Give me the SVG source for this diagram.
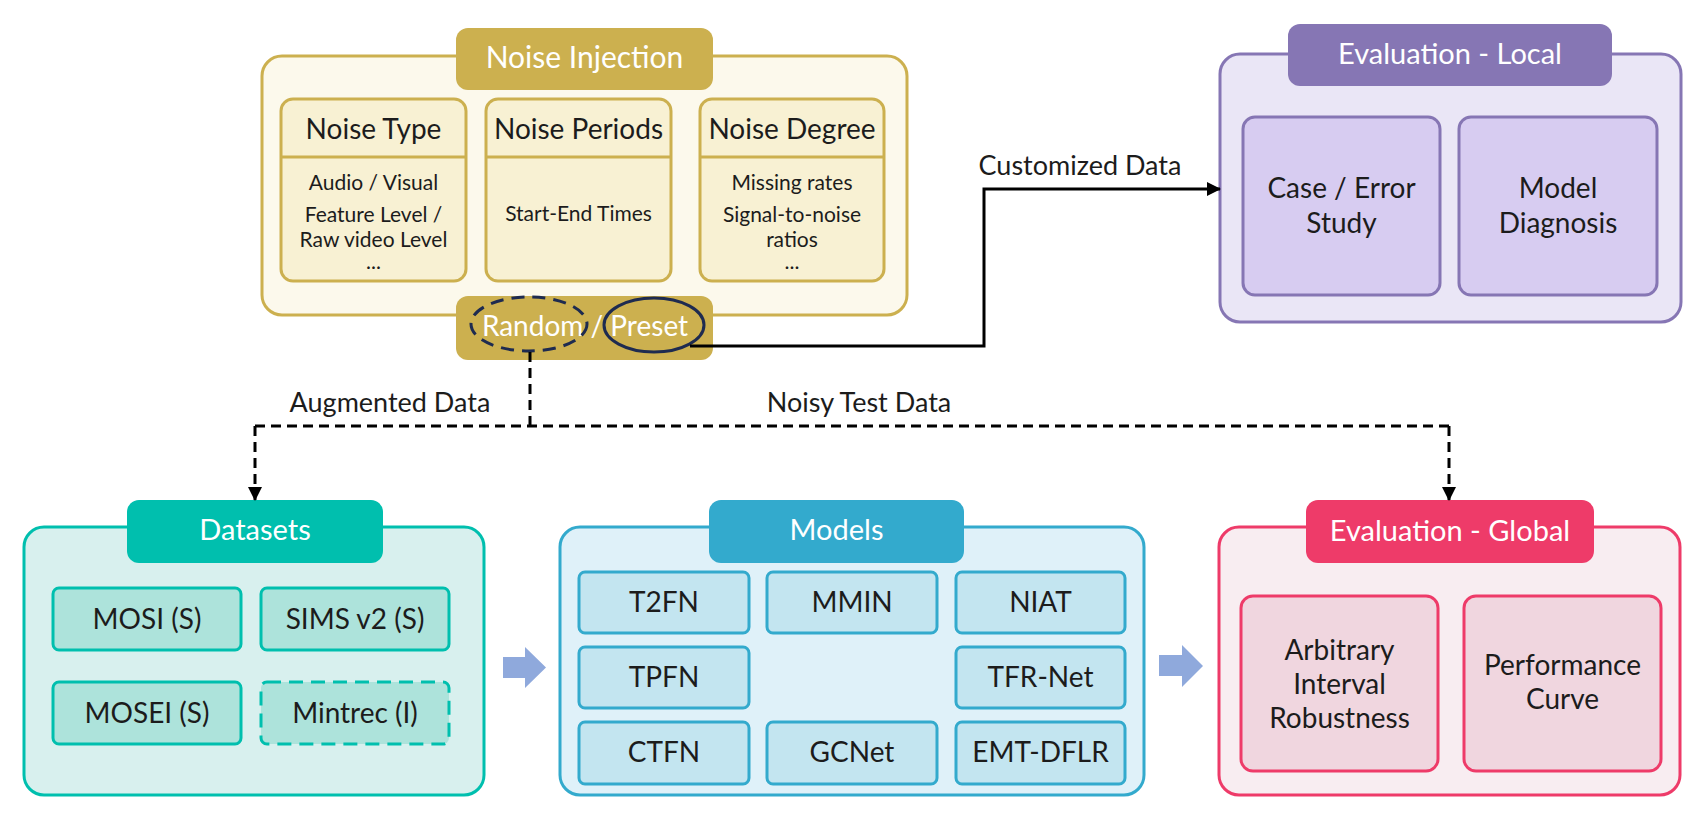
<svg xmlns="http://www.w3.org/2000/svg" width="1708" height="830" viewBox="0 0 1708 830">
<style>
text{font-family:Lato,"Noto Sans","Liberation Sans",sans-serif;fill:#1c1c1c;text-anchor:middle}
.t{fill:#fff;font-size:29px}
.h{font-size:28px}
.s{font-size:21px}
.m{font-size:28px}
.lbl{font-size:27px}
.gold-o{fill:#fcf9ec;stroke:#ccb04f;stroke-width:3}
.gold-s{fill:#f8f1d3;stroke:#ccb04f;stroke-width:3}
.gold-t{fill:#ccb04f}
.pur-o{fill:#eae6f6;stroke:#8676b4;stroke-width:3}
.pur-s{fill:#d7ccf1;stroke:#8676b4;stroke-width:3}
.pur-t{fill:#8676b4}
.tea-o{fill:#d8f0ee;stroke:#00bfae;stroke-width:3}
.tea-s{fill:#ade3db;stroke:#00bfae;stroke-width:3}
.tea-t{fill:#00bfae}
.blu-o{fill:#dff1f9;stroke:#33aacd;stroke-width:3}
.blu-s{fill:#c3e5f0;stroke:#33aacd;stroke-width:3}
.blu-t{fill:#33aacd}
.pin-o{fill:#f8edf1;stroke:#ee3b69;stroke-width:3}
.pin-s{fill:#f0d6df;stroke:#ee3b69;stroke-width:3}
.pin-t{fill:#ee3b69}
.line{fill:none;stroke:#000;stroke-width:3}
.dash{fill:none;stroke:#000;stroke-width:3;stroke-dasharray:10 6}
.barrow{fill:#8fa9dc}
</style>
<defs>
<marker id="arr" markerWidth="14" markerHeight="14" refX="13" refY="7" orient="auto" markerUnits="userSpaceOnUse">
<path d="M0,0 L14,7 L0,14 Z" fill="#000"/>
</marker>
</defs>

<g id="noise-injection">
<rect class="gold-o" x="262" y="56" width="645" height="259" rx="20"/>
<rect class="gold-t" x="456" y="28" width="257" height="62" rx="12"/>
<text class="t" x="584.5" y="68" style="font-size:30px">Noise Injection</text>
<g id="noise-type">
<rect class="gold-s" x="281" y="99" width="185" height="182" rx="12"/>
<line x1="281" y1="157" x2="466" y2="157" stroke="#ccb04f" stroke-width="3"/>
<text class="h" x="373.5" y="139">Noise Type</text>
<text class="s" x="373.5" y="190">Audio / Visual</text>
<text class="s" x="373.5" y="222">Feature Level /</text>
<text class="s" x="373.5" y="247">Raw video Level</text>
<text class="s" x="373.5" y="269">...</text>
</g>
<g id="noise-periods">
<rect class="gold-s" x="486" y="99" width="185" height="182" rx="12"/>
<line x1="486" y1="157" x2="671" y2="157" stroke="#ccb04f" stroke-width="3"/>
<text class="h" x="578.5" y="139">Noise Periods</text>
<text class="s" x="578.5" y="221">Start-End Times</text>
</g>
<g id="noise-degree">
<rect class="gold-s" x="700" y="99" width="184" height="182" rx="12"/>
<line x1="700" y1="157" x2="884" y2="157" stroke="#ccb04f" stroke-width="3"/>
<text class="h" x="792" y="139">Noise Degree</text>
<text class="s" x="792" y="190">Missing rates</text>
<text class="s" x="792" y="222">Signal-to-noise</text>
<text class="s" x="792" y="247">ratios</text>
<text class="s" x="792" y="269">...</text>
</g>
<g id="random-preset">
<rect class="gold-t" x="456" y="296" width="257" height="64" rx="12"/>
<text class="t" x="585" y="336" style="font-size:28px">Random / Preset</text>
<ellipse cx="529" cy="324" rx="58" ry="27" fill="none" stroke="#1e2b50" stroke-width="3" stroke-dasharray="13 8"/>
<ellipse cx="654" cy="325" rx="50" ry="27" fill="none" stroke="#1e2b50" stroke-width="3"/>
</g>
</g>

<g id="evaluation-local">
<rect class="pur-o" x="1220" y="54" width="461" height="268" rx="20"/>
<rect class="pur-t" x="1288" y="24" width="324" height="62" rx="12"/>
<text class="t" x="1450" y="64">Evaluation - Local</text>
<g id="case-error">
<rect class="pur-s" x="1243" y="117" width="197" height="178" rx="12"/>
<text class="m" x="1341.5" y="198">Case / Error</text>
<text class="m" x="1341.5" y="233">Study</text>
</g>
<g id="model-diagnosis">
<rect class="pur-s" x="1459" y="117" width="198" height="178" rx="12"/>
<text class="m" x="1558" y="198">Model</text>
<text class="m" x="1558" y="233">Diagnosis</text>
</g>
</g>

<g id="datasets">
<rect class="tea-o" x="24" y="527" width="460" height="268" rx="20"/>
<rect class="tea-t" x="127" y="500" width="256" height="63" rx="12"/>
<text class="t" x="255" y="540">Datasets</text>
<g id="mosi"><rect class="tea-s" x="53" y="588" width="188" height="62" rx="6"/><text class="m" x="147" y="629">MOSI (S)</text></g>
<g id="sims"><rect class="tea-s" x="261" y="588" width="188" height="62" rx="6"/><text class="m" x="355" y="629">SIMS v2 (S)</text></g>
<g id="mosei"><rect class="tea-s" x="53" y="682" width="188" height="62" rx="6"/><text class="m" x="147" y="723">MOSEI (S)</text></g>
<g id="mintrec"><rect class="tea-s" x="261" y="682" width="188" height="62" rx="6" stroke-dasharray="14 8"/><text class="m" x="355" y="723">Mintrec (I)</text></g>
</g>

<g id="models">
<rect class="blu-o" x="560" y="527" width="584" height="268" rx="20"/>
<rect class="blu-t" x="709" y="500" width="255" height="63" rx="12"/>
<text class="t" x="836.5" y="540">Models</text>
<g id="t2fn"><rect class="blu-s" x="579" y="572" width="170" height="61" rx="6"/><text class="m" x="664" y="612">T2FN</text></g>
<g id="mmin"><rect class="blu-s" x="767" y="572" width="170" height="61" rx="6"/><text class="m" x="852" y="612">MMIN</text></g>
<g id="niat"><rect class="blu-s" x="956" y="572" width="169" height="61" rx="6"/><text class="m" x="1040.5" y="612">NIAT</text></g>
<g id="tpfn"><rect class="blu-s" x="579" y="647" width="170" height="61" rx="6"/><text class="m" x="664" y="687">TPFN</text></g>
<g id="tfr-net"><rect class="blu-s" x="956" y="647" width="169" height="61" rx="6"/><text class="m" x="1040.5" y="687">TFR-Net</text></g>
<g id="ctfn"><rect class="blu-s" x="579" y="722" width="170" height="62" rx="6"/><text class="m" x="664" y="762">CTFN</text></g>
<g id="gcnet"><rect class="blu-s" x="767" y="722" width="170" height="62" rx="6"/><text class="m" x="852" y="762">GCNet</text></g>
<g id="emt-dflr"><rect class="blu-s" x="956" y="722" width="169" height="62" rx="6"/><text class="m" x="1040.5" y="762">EMT-DFLR</text></g>
</g>

<g id="evaluation-global">
<rect class="pin-o" x="1219" y="527" width="461" height="268" rx="20"/>
<rect class="pin-t" x="1306" y="500" width="288" height="63" rx="12"/>
<text class="t" x="1450" y="541">Evaluation - Global</text>
<g id="arbitrary">
<rect class="pin-s" x="1241" y="596" width="197" height="175" rx="12"/>
<text class="m" x="1339.5" y="660">Arbitrary</text>
<text class="m" x="1339.5" y="694">Interval</text>
<text class="m" x="1339.5" y="728">Robustness</text>
</g>
<g id="performance">
<rect class="pin-s" x="1464" y="596" width="197" height="175" rx="12"/>
<text class="m" x="1562.5" y="675">Performance</text>
<text class="m" x="1562.5" y="709">Curve</text>
</g>
</g>

<g id="connectors">
<path class="line" d="M690,346 H984 V189 H1220" marker-end="url(#arr)"/>
<text class="lbl" x="1080" y="175">Customized Data</text>
<path class="dash" d="M530,352 V426"/>
<path class="dash" d="M255,426 H1449"/>
<path class="dash" d="M255,426 V500" marker-end="url(#arr)"/>
<path class="dash" d="M1449,426 V500" marker-end="url(#arr)"/>
<text class="lbl" x="390" y="412">Augmented Data</text>
<text class="lbl" x="859" y="412">Noisy Test Data</text>
<polygon class="barrow" points="503,657 525,657 525,647 546,667.5 525,688 525,678 503,678"/>
<polygon class="barrow" points="1159,655 1182,655 1182,645 1203,666 1182,687 1182,676 1159,676"/>
</g>
</svg>
